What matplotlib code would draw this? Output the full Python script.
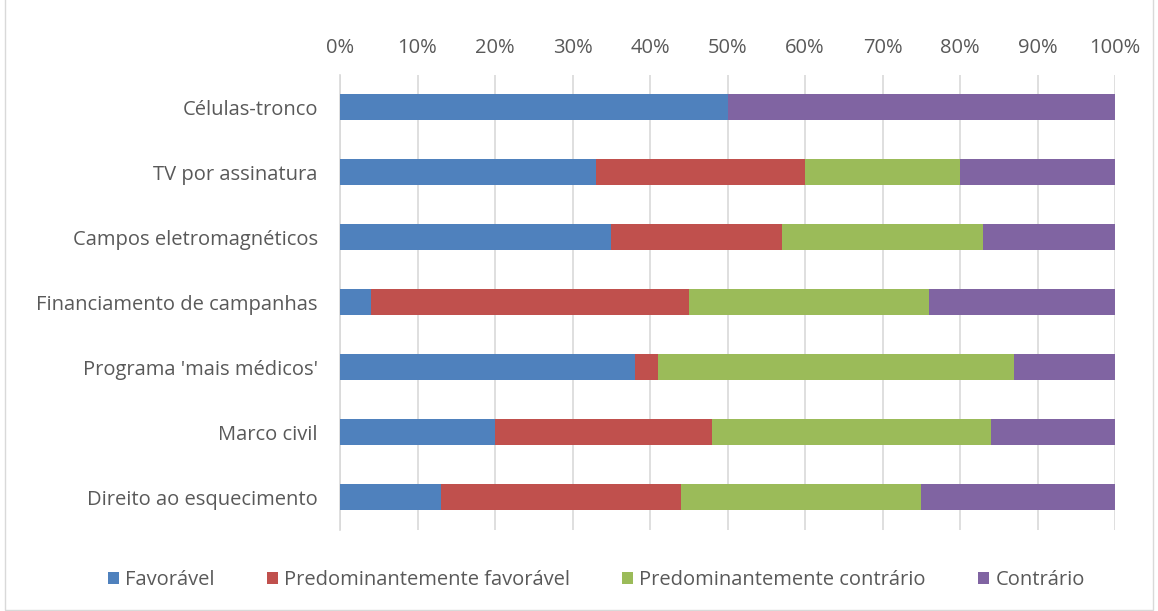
import matplotlib.pyplot as plt
import numpy as np

categories = ["Células-tronco", "TV por assinatura", "Campos eletromagnéticos",
              "Financiamento de campanhas", "Programa 'mais médicos'",
              "Marco civil", "Direito ao esquecimento"]
series = ["Favorável", "Predominantemente favorável",
          "Predominantemente contrário", "Contrário"]
favoravel = [50, 33, 35, 4, 38, 20, 13]
pred_fav = [0, 27, 22, 41, 3, 28, 31]
pred_contra = [0, 20, 26, 31, 46, 36, 31]
contrario = [50, 20, 17, 24, 13, 16, 25]
colors = ["#4F81BD", "#C0504D", "#9BBB59", "#8064A2"]

plt.rcParams['font.family'] = ['Open Sans', 'DejaVu Sans']
fs = 14.5

fig = plt.figure(figsize=(11.58, 6.11), dpi=100)
ax = fig.add_axes([340 / 1158, 1 - 529.5 / 611, 775 / 1158, 455 / 611])

y = np.arange(len(categories))
left = np.zeros(len(categories))
for vals, name, c in zip([favoravel, pred_fav, pred_contra, contrario], series, colors):
    vals = np.array(vals, dtype=float)
    ax.barh(y, vals, left=left, height=0.4, color=c, label=name, zorder=3)
    left += vals

ax.set_ylim(len(categories) - 0.5, -0.5)
ax.set_xlim(0, 100)
ax.set_yticks(y)
ax.set_yticklabels(categories, fontsize=fs, color="#595959")
ax.set_xticks(np.arange(0, 101, 10))
ax.set_xticklabels([f"{v}%" for v in range(0, 101, 10)], fontsize=fs, color="#595959")
ax.xaxis.tick_top()
ax.tick_params(length=0)
ax.tick_params(axis='x', pad=12)
ax.tick_params(axis='y', pad=16)
ax.grid(axis='x', color="#D9D9D9", linewidth=1.2, zorder=0)
for s in ["top", "right", "bottom"]:
    ax.spines[s].set_visible(False)
ax.spines["left"].set_color("#D9D9D9")
ax.spines["left"].set_linewidth(1.2)

fig.legend(loc="center", bbox_to_anchor=(0.515, 1 - 580 / 611), ncol=4, frameon=False,
           fontsize=fs, handlelength=0.55, handleheight=0.55, handletextpad=0.3,
           columnspacing=2.6, labelcolor="#595959")

fig.patches.append(plt.Rectangle((0.004, 0.002), 0.992, 1.2, transform=fig.transFigure,
                                 fill=False, edgecolor="#D9D9D9", linewidth=1))
fig.savefig("out.png", dpi=100)
